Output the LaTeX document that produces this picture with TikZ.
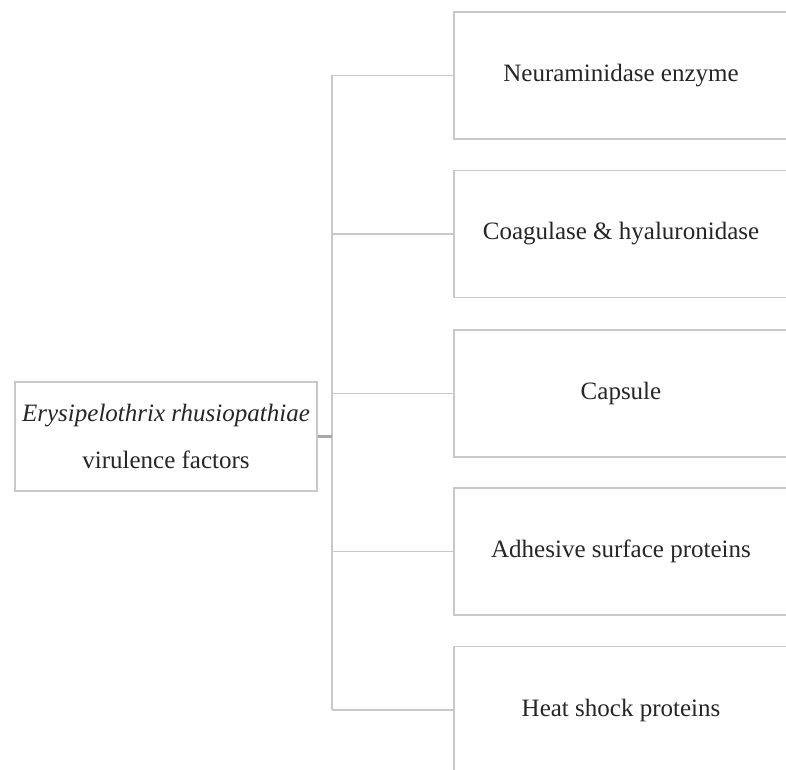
\documentclass[tikz,border=0pt]{standalone}
\usepackage{fontspec}
\setmainfont{LiberationSerif}[Extension=.ttf, UprightFont=*-Regular, ItalicFont=*-Italic, BoldFont=*-Bold, BoldItalicFont=*-BoldItalic]
\definecolor{linegray}{RGB}{200,200,200}
\definecolor{conngray}{RGB}{168,168,168}
\begin{document}
\begin{tikzpicture}[x=1pt,y=1pt,
  itembox/.style={draw=linegray, line width=1.4pt, minimum width=334pt, minimum height=127pt, inner sep=0pt,
    font=\fontsize{25}{30}\selectfont, text=black!85},
  rootbox/.style={draw=linegray, line width=1.4pt, minimum width=302pt, minimum height=109pt, inner sep=0pt,
    align=center, font=\fontsize{25}{47}\selectfont, text=black!85},
  branch/.style={draw=linegray, line width=1.4pt},
  stub/.style={draw=conngray, line width=2.6pt}]
\useasboundingbox (0,0) rectangle (786,769);
\clip (0,0) rectangle (786,769);
\fill[white] (0,0) rectangle (786,769);
\node[rootbox] (root) at (166,332.5) {\textit{Erysipelothrix rhusiopathiae}\\virulence factors};
\node[itembox] (n1) at (621,693.5) {Neuraminidase enzyme};
\node[itembox] (n2) at (621,535) {Coagulase \& hyaluronidase};
\node[itembox] (n3) at (621,375.5) {Capsule};
\node[itembox] (n4) at (621,217.5) {Adhesive surface proteins};
\node[itembox] (n5) at (621,59) {Heat shock proteins};
\coordinate (tk) at (332,332.5);
\draw[branch] (tk |- n1.west) -- (tk |- n5.west);
\foreach \n in {n1,n2,n3,n4,n5}{
  \draw[branch] (tk |- \n.west) -- (\n.west);
}
\draw[stub] (root.east) -- (tk);
\end{tikzpicture}
\end{document}
